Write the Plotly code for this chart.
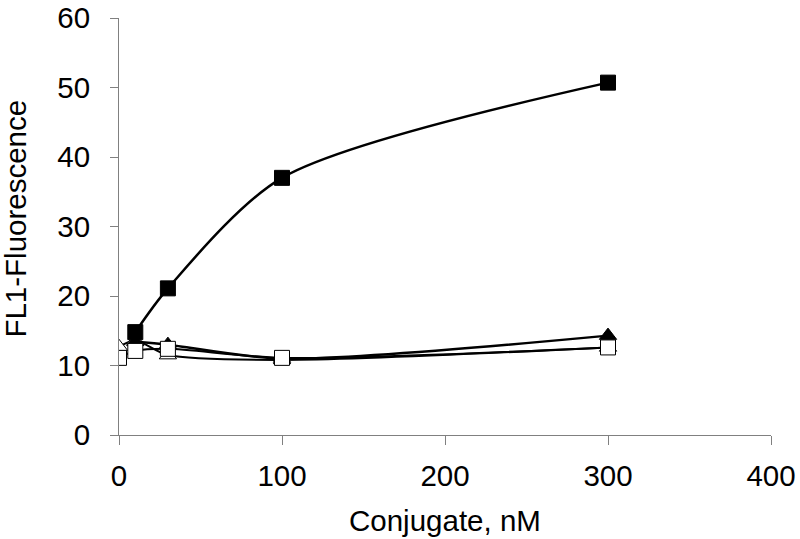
import plotly.graph_objects as go

# conjugate concentrations (nM) and FL1 fluorescence readings
x_filled_sq = [10, 30, 100, 300]
y_filled_sq = [14.8, 21.1, 37.0, 50.7]

x_filled_tri = [10, 30, 100, 300]
y_filled_tri = [13.4, 13.0, 11.0, 14.3]

x_open_tri = [0, 10, 30, 100, 300]
y_open_tri = [12.7, 13.6, 11.5, 10.8, 12.6]

x_open_sq = [0, 10, 30, 100, 300]
y_open_sq = [11.1, 12.1, 12.4, 11.1, 12.6]

fig = go.Figure()


def add_series(x, y, symbol, fill, width):
    fig.add_trace(go.Scatter(
        x=x, y=y, mode="lines+markers",
        line=dict(color="black", width=width, shape="spline", smoothing=0.8),
        marker=dict(symbol=symbol, size=15, color=fill,
                    line=dict(color="black", width=1)),
        showlegend=False,
    ))


add_series(x_open_tri, y_open_tri, "triangle-up", "white", 2)
add_series(x_filled_tri, y_filled_tri, "triangle-up", "black", 2.5)
add_series(x_open_sq, y_open_sq, "square", "white", 2)
add_series(x_filled_sq, y_filled_sq, "square", "black", 2.5)

axis_font = dict(family="Liberation Sans, Arial", size=29.5, color="black")

fig.update_layout(
    width=800, height=539,
    paper_bgcolor="white", plot_bgcolor="white",
    margin=dict(l=119, r=29, t=18, b=104),
    font=axis_font,
    xaxis=dict(
        range=[0, 400], tickvals=[0, 100, 200, 300, 400],
        showgrid=False, zeroline=False, showline=True, linecolor="#808080",
        ticks="outside", ticklen=9, tickcolor="#808080", automargin=False,
        ticklabelstandoff=6, tickfont=axis_font, ticklabeloverflow="allow",
    ),
    yaxis=dict(
        range=[0, 60], tickvals=[0, 10, 20, 30, 40, 50, 60],
        showgrid=False, zeroline=False, showline=True, linecolor="#808080",
        ticks="outside", ticklen=8, tickcolor="#808080", automargin=False,
        ticklabelstandoff=14, tickfont=axis_font, ticklabeloverflow="allow",
    ),
    annotations=[
        dict(text="Conjugate, nM", xref="paper", yref="paper", x=0.5, y=0,
             yshift=-85, xanchor="center", yanchor="middle",
             showarrow=False, font=axis_font),
        dict(text="FL1-Fluorescence", xref="paper", yref="paper", x=0, y=0.519,
             xshift=-103, xanchor="center", yanchor="middle", textangle=-90,
             showarrow=False, font=axis_font),
    ],
)

# drop the default page margin so the figure fills the window exactly
fig.write_html(
    "out.html",
    config={"displayModeBar": False},
    post_script="document.body.style.margin='0';document.body.style.overflow='hidden';",
)
